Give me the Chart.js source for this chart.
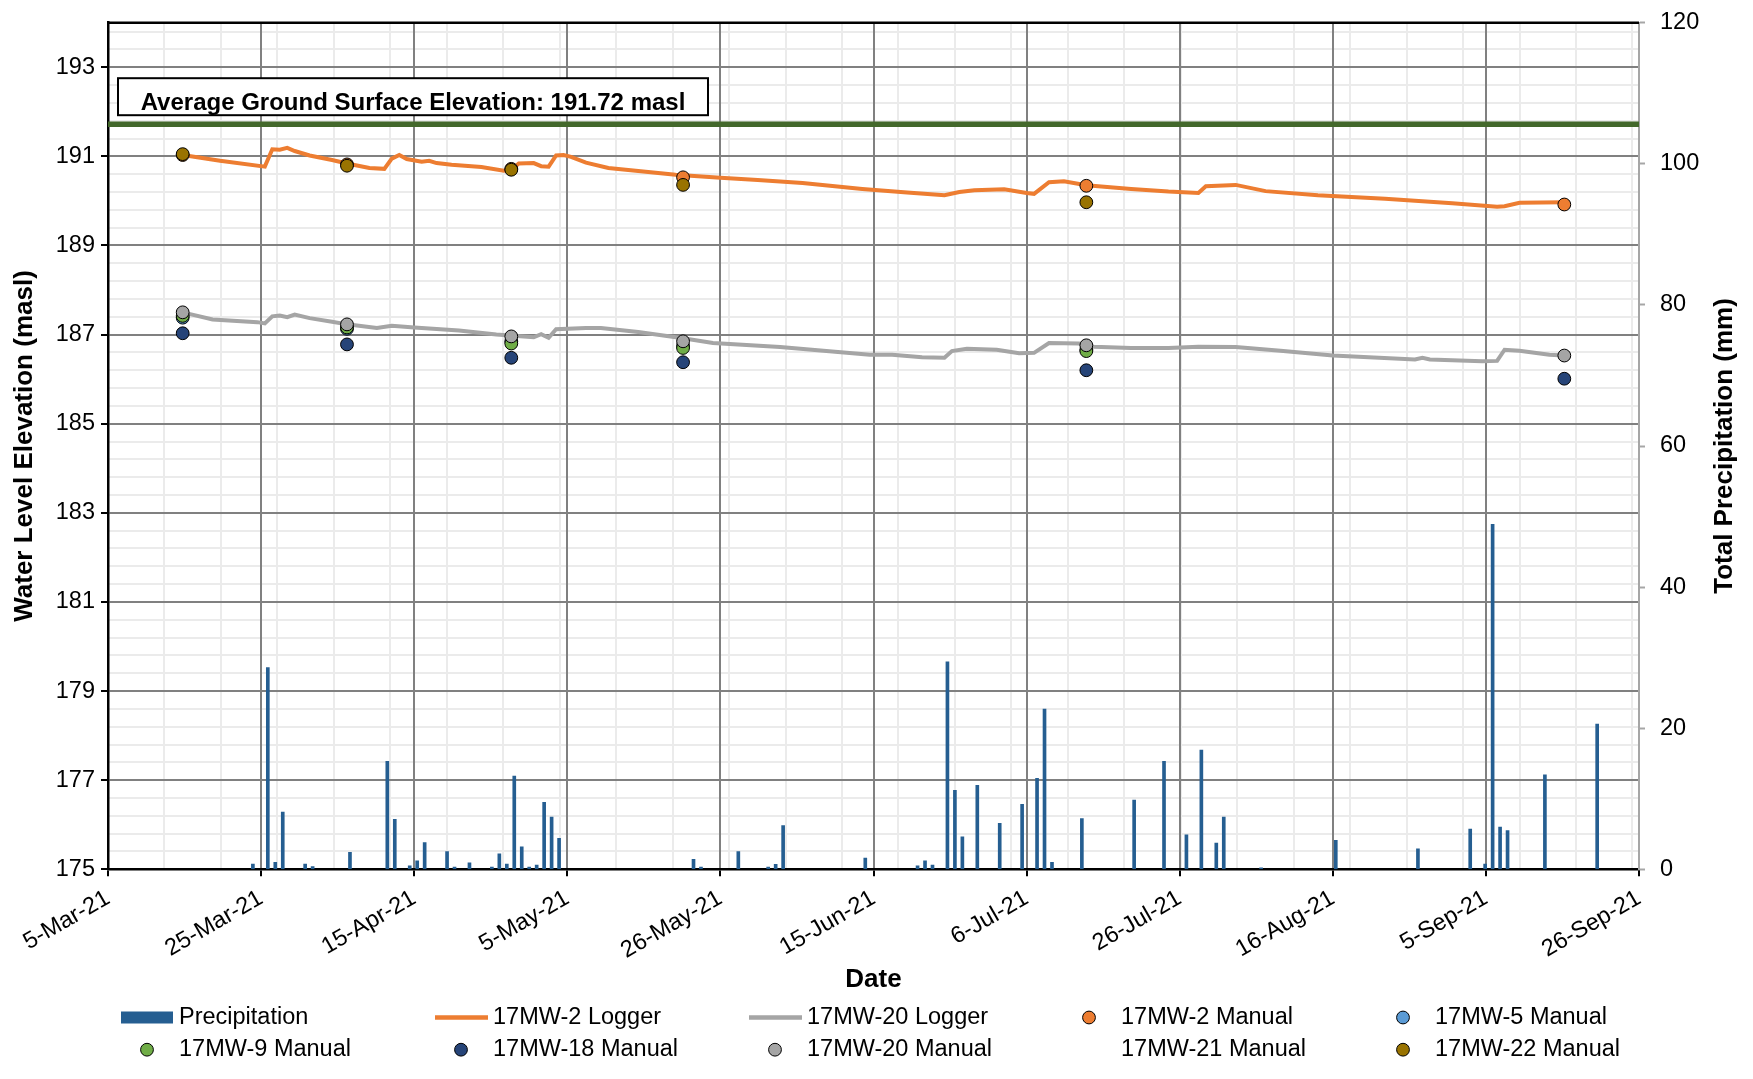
<!DOCTYPE html>
<html>
<head>
<meta charset="utf-8">
<script src="https://cdn.jsdelivr.net/npm/chart.js@4.4.1/dist/chart.umd.min.js"></script>
<style>
  html, body { margin: 0; padding: 0; background: #fff; }
  #wrap { width: 1753px; height: 1079px; }
</style>
</head>
<body>
<div id="wrap"><canvas id="chart" width="1753" height="1079"></canvas></div>
<script>
// axis range and labels
const axisStart = '2021-03-05';
const axisEnd = '2021-09-26';
const dateTicks = ['5-Mar-21', '25-Mar-21', '15-Apr-21', '5-May-21', '26-May-21', '15-Jun-21',
  '6-Jul-21', '26-Jul-21', '16-Aug-21', '5-Sep-21', '26-Sep-21'];
const elevTicks = [175, 177, 179, 181, 183, 185, 187, 189, 191, 193];
const precipTicks = [0, 20, 40, 60, 80, 100, 120];
const groundElev = 191.72;

// daily precipitation (mm)
const precipDates = ['2021-03-24', '2021-03-26', '2021-03-27', '2021-03-28', '2021-03-31', '2021-04-01',
  '2021-04-06', '2021-04-11', '2021-04-12', '2021-04-14', '2021-04-15', '2021-04-16', '2021-04-19',
  '2021-04-20', '2021-04-22', '2021-04-25', '2021-04-26', '2021-04-27', '2021-04-28', '2021-04-29',
  '2021-04-30', '2021-05-01', '2021-05-02', '2021-05-03', '2021-05-04', '2021-05-22', '2021-05-23',
  '2021-05-28', '2021-06-01', '2021-06-02', '2021-06-03', '2021-06-14', '2021-06-21', '2021-06-22',
  '2021-06-23', '2021-06-25', '2021-06-26', '2021-06-27', '2021-06-29', '2021-07-02', '2021-07-05',
  '2021-07-07', '2021-07-08', '2021-07-09', '2021-07-13', '2021-07-20', '2021-07-24', '2021-07-27',
  '2021-07-29', '2021-07-31', '2021-08-01', '2021-08-06', '2021-08-16', '2021-08-27', '2021-09-03',
  '2021-09-05', '2021-09-06', '2021-09-07', '2021-09-08', '2021-09-13', '2021-09-20'];
const precipMm = [0.75, 28.6, 1.0, 8.1, 0.75, 0.4,
  2.4, 15.3, 7.1, 0.5, 1.2, 3.8, 2.5,
  0.3, 0.9, 0.3, 2.2, 0.75, 13.2, 3.2,
  0.3, 0.6, 9.5, 7.4, 4.4, 1.4, 0.3,
  2.5, 0.3, 0.7, 6.2, 1.6, 0.5, 1.2,
  0.6, 29.4, 11.2, 4.6, 11.9, 6.5, 9.2,
  12.9, 22.7, 1.0, 7.2, 9.8, 15.3, 4.9,
  16.9, 3.7, 7.4, 0.2, 4.1, 2.9, 5.7,
  0.75, 48.9, 6.0, 5.5, 13.4, 20.6];

// logger records
const mw2LoggerDates = ['2021-03-15', '2021-03-20', '2021-03-26', '2021-03-27', '2021-03-28', '2021-03-29',
  '2021-03-30', '2021-04-01', '2021-04-04', '2021-04-06', '2021-04-09', '2021-04-11', '2021-04-12',
  '2021-04-13', '2021-04-14', '2021-04-16', '2021-04-17', '2021-04-18', '2021-04-20', '2021-04-24',
  '2021-04-27', '2021-04-28', '2021-04-29', '2021-05-01', '2021-05-02', '2021-05-03', '2021-05-04',
  '2021-05-05', '2021-05-06', '2021-05-08', '2021-05-11', '2021-05-14', '2021-05-20', '2021-05-26',
  '2021-05-31', '2021-06-06', '2021-06-14', '2021-06-20', '2021-06-25', '2021-06-27', '2021-06-29',
  '2021-07-03', '2021-07-06', '2021-07-07', '2021-07-09', '2021-07-11', '2021-07-14', '2021-07-20',
  '2021-07-25', '2021-07-29', '2021-07-30', '2021-08-03', '2021-08-07', '2021-08-14', '2021-08-23',
  '2021-09-01', '2021-09-07', '2021-09-08', '2021-09-10', '2021-09-16'];
const mw2LoggerLevels = [191.03, 190.90, 190.77, 191.16, 191.15, 191.19,
  191.12, 191.02, 190.92, 190.84, 190.74, 190.72, 190.95,
  191.03, 190.94, 190.88, 190.90, 190.85, 190.81, 190.76,
  190.68, 190.70, 190.84, 190.85, 190.78, 190.77, 191.02,
  191.03, 190.99, 190.86, 190.74, 190.69, 190.59, 190.52,
  190.47, 190.40, 190.27, 190.19, 190.13, 190.20, 190.24,
  190.26, 190.18, 190.16, 190.42, 190.44, 190.35, 190.27,
  190.21, 190.18, 190.33, 190.36, 190.22, 190.13, 190.05,
  189.95, 189.87, 189.88, 189.96, 189.97];

const mw20LoggerDates = ['2021-03-15', '2021-03-16', '2021-03-19', '2021-03-25', '2021-03-26', '2021-03-27',
  '2021-03-28', '2021-03-29', '2021-03-30', '2021-04-01', '2021-04-04', '2021-04-06', '2021-04-10',
  '2021-04-12', '2021-04-15', '2021-04-21', '2021-04-26', '2021-05-01', '2021-05-02', '2021-05-03',
  '2021-05-04', '2021-05-08', '2021-05-10', '2021-05-15', '2021-05-21', '2021-05-25', '2021-06-03',
  '2021-06-15', '2021-06-18', '2021-06-22', '2021-06-25', '2021-06-26', '2021-06-28', '2021-07-02',
  '2021-07-05', '2021-07-07', '2021-07-09', '2021-07-13', '2021-07-15', '2021-07-20', '2021-07-25',
  '2021-07-29', '2021-08-03', '2021-08-09', '2021-08-16', '2021-08-27', '2021-08-28', '2021-08-29',
  '2021-09-05', '2021-09-07', '2021-09-08', '2021-09-10', '2021-09-14', '2021-09-16'];
const mw20LoggerLevels = [187.50, 187.46, 187.34, 187.28, 187.25, 187.41,
  187.43, 187.39, 187.45, 187.37, 187.29, 187.23, 187.15,
  187.20, 187.16, 187.09, 187.00, 186.94, 187.01, 186.93,
  187.12, 187.15, 187.15, 187.06, 186.92, 186.81, 186.72,
  186.55, 186.55, 186.49, 186.48, 186.63, 186.68, 186.66,
  186.58, 186.59, 186.81, 186.80, 186.73, 186.70, 186.70,
  186.73, 186.72, 186.64, 186.53, 186.44, 186.48, 186.44,
  186.40, 186.41, 186.66, 186.64, 186.55, 186.53];

// manual measurements
const manualDates = ['2021-03-15', '2021-04-06', '2021-04-28', '2021-05-21', '2021-07-14', '2021-09-16'];
const mw2Manual = [191.03, 190.82, 190.72, 190.53, 190.34, 189.92];
const mw5Manual = [187.38, 187.13, 186.85, 186.75, 186.66, null];
const mw9Manual = [187.42, 187.16, 186.80, 186.70, 186.63, null];
const mw18Manual = [187.03, 186.78, 186.48, 186.38, 186.20, 186.01];
const mw20Manual = [187.50, 187.23, 186.96, 186.85, 186.76, 186.53];
const mw21Manual = [null, null, null, null, null, null];
const mw22Manual = [191.05, 190.79, 190.70, 190.36, 189.97, null];

const DAY = 86400000;
const t0 = Date.parse(axisStart + 'T00:00:00Z');
const dayOf = s => (Date.parse(s + 'T00:00:00Z') - t0) / DAY;
const span = dayOf(axisEnd);
const BAR_SHIFT = 0.4;   // precipitation columns sit a little right of the date
const MINOR_X = 7.56;    // minor vertical gridline spacing (days)
const MINOR_Y = 0.4;

const toPoints = (dates, vals, shift = 0) =>
  dates.map((d, i) => ({ x: dayOf(d) + shift, y: vals[i] })).filter(p => p.y !== null);

const FONT = "'Liberation Sans', Arial, sans-serif";

function manualSet(label, values, color, order) {
  return {
    type: 'line', label, data: toPoints(manualDates, values), showLine: false,
    pointRadius: 6.4, pointHoverRadius: 6.4, pointBorderWidth: 1,
    pointBackgroundColor: color, pointBorderColor: color === 'transparent' ? 'transparent' : '#000',
    backgroundColor: color, borderColor: color, yAxisID: 'y', order
  };
}

const datasets = [
  { type: 'bar', label: 'Precipitation', data: toPoints(precipDates, precipMm, BAR_SHIFT),
    backgroundColor: '#255E91', barThickness: 3, yAxisID: 'yP', order: 20 },
  { type: 'line', label: '17MW-2 Logger', data: toPoints(mw2LoggerDates, mw2LoggerLevels),
    borderColor: '#ED7D31', backgroundColor: '#ED7D31', borderWidth: 4, pointRadius: 0, yAxisID: 'y', order: 19 },
  { type: 'line', label: '17MW-20 Logger', data: toPoints(mw20LoggerDates, mw20LoggerLevels),
    borderColor: '#A5A5A5', backgroundColor: '#A5A5A5', borderWidth: 4, pointRadius: 0, yAxisID: 'y', order: 18 },
  manualSet('17MW-2 Manual', mw2Manual, '#ED7D31', 17),
  manualSet('17MW-5 Manual', mw5Manual, '#5B9BD5', 16),
  manualSet('17MW-9 Manual', mw9Manual, '#70AD47', 15),
  manualSet('17MW-18 Manual', mw18Manual, '#264478', 14),
  manualSet('17MW-20 Manual', mw20Manual, '#A5A5A5', 13),
  manualSet('17MW-21 Manual', mw21Manual, 'transparent', 12),
  manualSet('17MW-22 Manual', mw22Manual, '#997300', 11),
  { type: 'line', label: 'ground', data: [{ x: 0, y: groundElev }, { x: span, y: groundElev }],
    borderColor: '#43682B', borderWidth: 5.5, pointRadius: 0, yAxisID: 'y', order: 10, inLegend: false }
];

// border, note box, right title and a 5-column legend
const decor = {
  id: 'decor',
  afterDraw(chart) {
    const { ctx, chartArea: a } = chart;
    ctx.save();
    ctx.strokeStyle = '#000';
    ctx.lineWidth = 2.5;
    ctx.beginPath();
    ctx.moveTo(a.left, a.top);
    ctx.lineTo(a.right, a.top);
    ctx.stroke();

    // note box
    const bx = a.left + 10, by = a.top + 55.5, bw = 590, bh = 37;
    ctx.fillStyle = '#fff';
    ctx.fillRect(bx, by, bw, bh);
    ctx.lineWidth = 2;
    ctx.strokeRect(bx, by, bw, bh);
    ctx.fillStyle = '#000';
    ctx.font = `bold 24px ${FONT}`;
    ctx.textAlign = 'center';
    ctx.textBaseline = 'alphabetic';
    ctx.fillText(`Average Ground Surface Elevation: ${groundElev} masl`, bx + bw / 2, by + 32);

    // right axis title
    ctx.save();
    ctx.translate(1725, (a.top + a.bottom) / 2);
    ctx.rotate(-Math.PI / 2);
    ctx.font = `bold 26px ${FONT}`;
    ctx.textBaseline = 'middle';
    ctx.fillText('Total Precipitation (mm)', 0, 0);
    ctx.restore();

    // legend
    ctx.font = `23.5px ${FONT}`;
    ctx.textAlign = 'left';
    ctx.textBaseline = 'middle';
    const items = chart.data.datasets.filter(d => d.inLegend !== false);
    items.forEach((d, i) => {
      const x0 = 121 + (i % 5) * 314;
      const yc = 1017.5 + Math.floor(i / 5) * 32.2;
      if (d.type === 'bar') {
        ctx.fillStyle = d.backgroundColor;
        ctx.fillRect(x0, yc - 6, 52, 12);
      } else if (d.showLine === false) {
        ctx.beginPath();
        ctx.arc(x0 + 26, yc, 6.4, 0, Math.PI * 2);
        ctx.fillStyle = d.pointBackgroundColor;
        ctx.fill();
        ctx.lineWidth = 1;
        ctx.strokeStyle = d.pointBorderColor;
        ctx.stroke();
      } else {
        ctx.strokeStyle = d.borderColor;
        ctx.lineWidth = 4.5;
        ctx.beginPath();
        ctx.moveTo(x0, yc);
        ctx.lineTo(x0 + 53, yc);
        ctx.stroke();
      }
      ctx.fillStyle = '#000';
      ctx.fillText(d.label, x0 + 58, yc);
    });
    ctx.restore();
  }
};

const tickFont = { family: FONT, size: 23.5 };
const titleFont = { family: FONT, size: 26, weight: 'bold' };
const noPad = s => { s.paddingTop = 0; s.paddingBottom = 0; s.paddingLeft = 0; s.paddingRight = 0; };

new Chart(document.getElementById('chart'), {
  type: 'line',
  data: { datasets },
  options: {
    responsive: false,
    animation: false,
    devicePixelRatio: 1,
    layout: { padding: { top: 22.7, bottom: 79.7, left: 0, right: 0 } },
    plugins: { legend: { display: false }, tooltip: { enabled: false } },
    scales: {
      x: {
        type: 'linear', position: 'bottom', min: 0, max: span, offset: false,
        afterBuildTicks: s => { s.ticks = dateTicks.map((_, i) => ({ value: i * span / (dateTicks.length - 1) })); },
        afterFit: s => { s.height = 130; noPad(s); },
        ticks: { callback: (v, i) => dateTicks[i], font: tickFont, color: '#000',
          minRotation: 30, maxRotation: 30, autoSkip: false, padding: 8 },
        grid: { color: '#808080', lineWidth: 2, tickColor: '#000', tickLength: 7, tickWidth: 2, offset: false, z: -1 },
        border: { color: '#000', width: 2.5 },
        title: { display: true, text: 'Date', font: titleFont, color: '#000', padding: { top: 0, bottom: 3.5 } }
      },
      xMinor: {
        type: 'linear', position: 'bottom', min: 0, max: span, offset: false,
        afterBuildTicks: s => {
          const t = [];
          for (let v = MINOR_X; v < span; v += MINOR_X) t.push({ value: v });
          s.ticks = t;
        },
        afterFit: s => { s.height = 0; noPad(s); },
        ticks: { display: false },
        grid: { color: '#EBEBEB', lineWidth: 2, drawTicks: false, offset: false, z: -2 },
        border: { display: false }
      },
      y: {
        type: 'linear', position: 'left', min: 175, max: 194,
        afterBuildTicks: s => { s.ticks = elevTicks.map(v => ({ value: v })); },
        afterFit: s => { s.width = 108; noPad(s); },
        ticks: { font: tickFont, color: '#000', padding: 6 },
        grid: { color: '#808080', lineWidth: 2, tickColor: '#000', tickLength: 7, tickWidth: 2, z: -1 },
        border: { color: '#000', width: 2.5 },
        title: { display: true, text: 'Water Level Elevation (masl)', font: titleFont, color: '#000',
          padding: { top: 9, bottom: 0 } }
      },
      yMinor: {
        type: 'linear', position: 'left', min: 175, max: 194,
        afterBuildTicks: s => {
          const t = [];
          for (let v = 175 + MINOR_Y; v < 194.01; v += MINOR_Y) t.push({ value: v });
          s.ticks = t;
        },
        afterFit: s => { s.width = 0; noPad(s); },
        ticks: { display: false },
        grid: { color: '#EBEBEB', lineWidth: 2, drawTicks: false, z: -2 },
        border: { display: false }
      },
      yP: {
        type: 'linear', position: 'right', min: 0, max: 120,
        afterBuildTicks: s => { s.ticks = precipTicks.map(v => ({ value: v })); },
        afterFit: s => { s.width = 114; noPad(s); },
        ticks: { font: tickFont, color: '#000', padding: 15 },
        grid: { drawOnChartArea: false, color: '#A6A6A6', tickLength: 6, tickWidth: 2 },
        border: { color: '#A6A6A6', width: 2 }
      }
    }
  },
  plugins: [decor]
});
</script>
</body>
</html>
